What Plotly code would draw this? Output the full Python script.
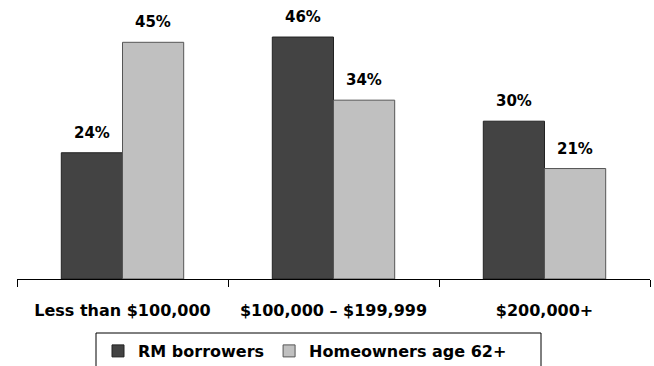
import plotly.graph_objects as go

categories = ["Less than $100,000", "$100,000 – $199,999", "$200,000+"]
rm_borrowers = [24, 46, 30]
homeowners_62 = [45, 34, 21]
series_names = ["RM borrowers", "Homeowners age 62+"]

FONT = "DejaVu Sans"
DARK = "#434343"
LIGHT = "#c0c0c0"

fig = go.Figure()
fig.add_bar(x=categories, y=rm_borrowers, name=series_names[0],
            marker=dict(color=DARK, line=dict(color="#222222", width=1)))
fig.add_bar(x=categories, y=homeowners_62, name=series_names[1],
            marker=dict(color=LIGHT, line=dict(color="#555555", width=1)))

# value labels above each bar, shifted onto the bar's half of the group
for values, dx in ((rm_borrowers, -30.5), (homeowners_62, 30.5)):
    for cat, v in zip(categories, values):
        fig.add_annotation(x=cat, y=v, text=f"<b>{v}%</b>", showarrow=False,
                           xshift=dx, yshift=9, yanchor="bottom",
                           font=dict(family=FONT, size=15, color="black"))

# legend frame
fig.add_shape(type="rect", xref="paper", yref="paper",
              x0=(96 - 17) / 633, x1=(541 - 17) / 633,
              y0=(279 - 333) / 263, y1=(279 - 380) / 263,
              line=dict(color="black", width=1), fillcolor="rgba(0,0,0,0)")

fig.update_layout(
    width=654, height=366,
    margin=dict(l=17, r=4, t=16, b=87, autoexpand=False),
    paper_bgcolor="white", plot_bgcolor="white",
    barmode="group", bargap=0.42, bargroupgap=0,
    showlegend=True,
    legend=dict(orientation="h", x=(98 - 17) / 633, y=(279 - 334) / 263,
                xanchor="left", yanchor="top",
                font=dict(family=FONT, size=16, color="black", weight="bold"),
                borderwidth=0, bgcolor="rgba(0,0,0,0)",
                itemclick=False),
    xaxis=dict(showline=True, linecolor="black", linewidth=1,
               ticks="outside", tickson="boundaries", ticklen=7,
               tickcolor="black", tickwidth=1, showgrid=False,
               ticklabelstandoff=17,
               tickfont=dict(family=FONT, size=16, color="black", weight="bold")),
    yaxis=dict(visible=False, range=[0, 50], showgrid=False, zeroline=False),
)

fig.write_html("out.html")
